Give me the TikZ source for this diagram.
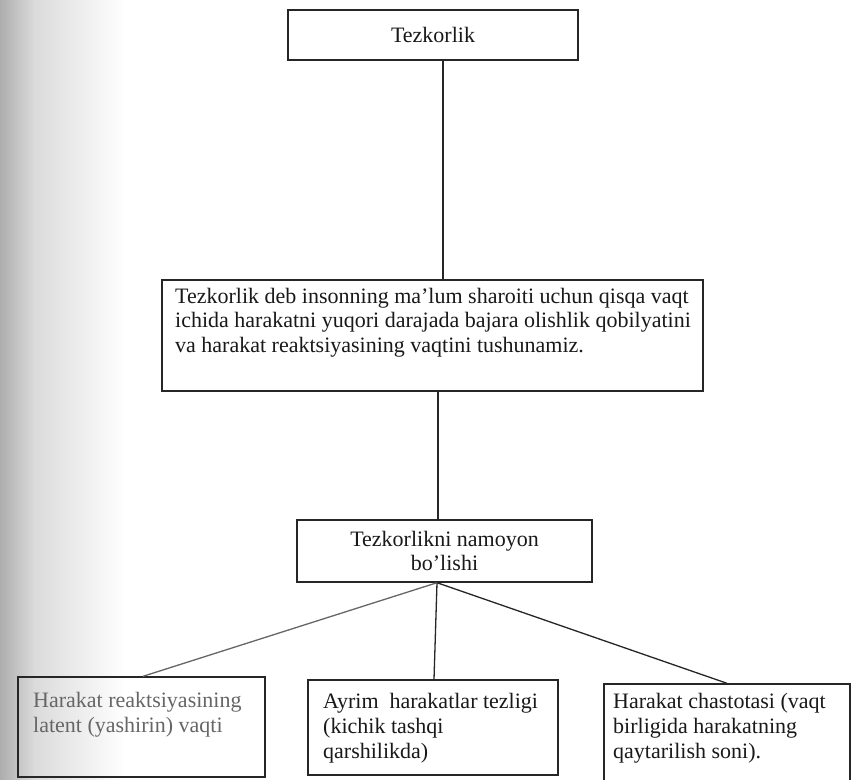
\documentclass[tikz,border=0pt]{standalone}
\usepackage{fontspec}
\setmainfont{Liberation Serif}
\begin{document}
\begin{tikzpicture}[x=1pt,y=-1pt,
  frame/.style={draw=black!85, line width=1.4pt, rectangle, inner sep=0pt},
  body/.style={font=\fontsize{22}{24.5}\selectfont, text=black!90},
  para/.style={body, anchor=north west, inner sep=0pt, align=left},
  lowpara/.style={para, font=\fontsize{22}{25}\selectfont},
  link/.style={draw=black!85, line width=1.3pt}
]
% page and the shadowed binding edge on the left
\clip (0,0) rectangle (853,779);
\fill[white] (0,0) rectangle (853,779);
\shade[left color=black!32, right color=black!14] (0,0) rectangle (35,779);
\shade[left color=black!14, right color=white] (35,0) rectangle (125,779);

% boxes
\node[frame, body, minimum width=290pt, minimum height=50pt] (speed) at (433,35) {Tezkorlik};

\node[frame, minimum width=541pt, minimum height=111pt] (def) at (432.5,335.5) {};
\node[para] (deftext) at (175,288)
  {Tezkorlik deb insonning ma’lum sharoiti uchun qisqa vaqt\\
   ichida harakatni yuqori darajada bajara olishlik qobilyatini\\
   va harakat reaktsiyasining vaqtini tushunamiz.};

\node[frame, body, align=center, minimum width=295pt, minimum height=62pt,
      font=\fontsize{22}{24}\selectfont] (show) at (444.5,551)
  {Tezkorlikni namoyon\\ bo’lishi};

\node[frame, minimum width=247pt, minimum height=100pt] (lat) at (141.5,727) {};
\node[lowpara, text=black!60] (lattext) at (33,692)
  {Harakat reaktsiyasining\\ latent (yashirin) vaqti};

\node[frame, minimum width=250pt, minimum height=95pt] (sep) at (433,727.5) {};
\node[lowpara] (septext) at (323,693)
  {Ayrim~ harakatlar tezligi\\ (kichik tashqi\\ qarshilikda)};

\node[frame, minimum width=246pt, minimum height=116pt] (freq) at (727,742) {};
\node[lowpara] (freqtext) at (613,693)
  {Harakat chastotasi (vaqt\\ birligida harakatning\\ qaytarilish soni).};

% connectors
\draw[link] ([xshift=10pt]speed.south) -- ([xshift=10pt]speed.south |- def.north);
\draw[link] ([xshift=5.5pt]def.south) -- ([xshift=5.5pt]def.south |- show.north);
\draw[link, draw=black!60] ([xshift=-7.5pt]show.south) -- ([xshift=1.5pt]lat.north);
\draw[link] ([xshift=-7.5pt]show.south) -- ([xshift=1pt]sep.north);
\draw[link] ([xshift=-7.5pt]show.south) -- (freq.north);
\end{tikzpicture}
\end{document}
